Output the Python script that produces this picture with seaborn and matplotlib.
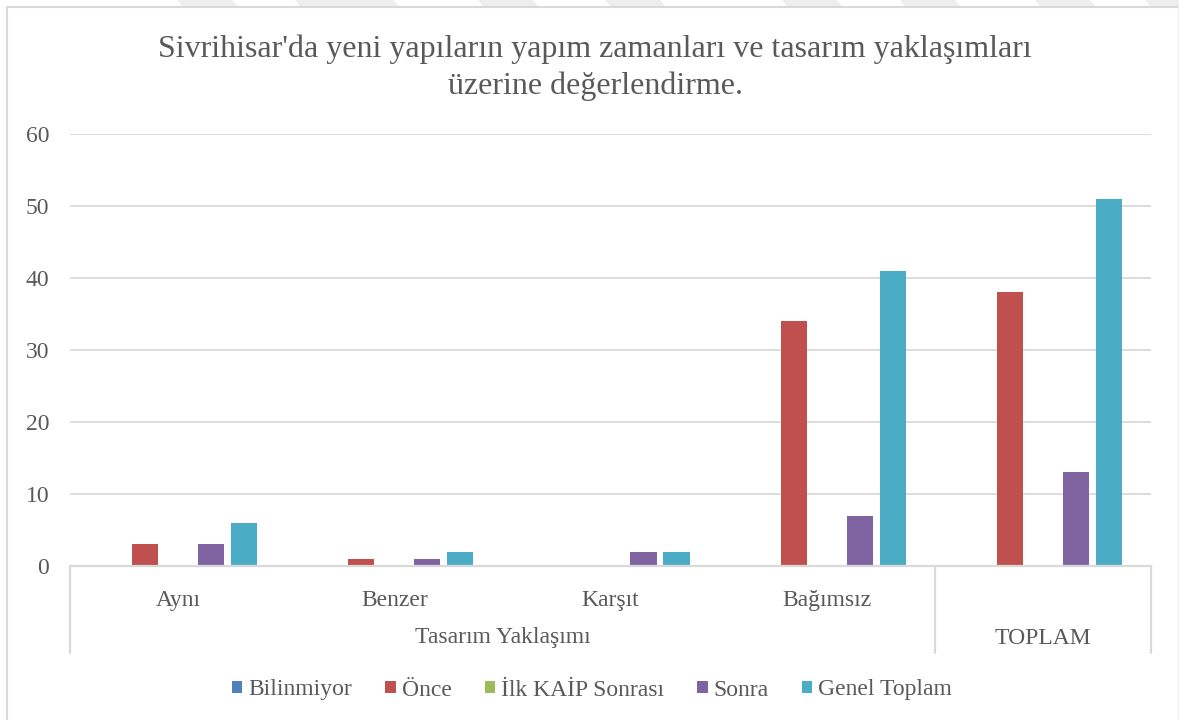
import matplotlib
matplotlib.use("Agg")
import matplotlib.pyplot as plt
import matplotlib.transforms as mtransforms
from matplotlib.patches import Polygon
import pandas as pd
import seaborn as sns

# ---- data ----
categories = ["Aynı", "Benzer", "Karşıt", "Bağımsız", "TOPLAM_ALL"]
sub_labels = ["Aynı", "Benzer", "Karşıt", "Bağımsız", ""]
group_labels = ["Tasarım Yaklaşımı", "TOPLAM"]
group_spans = [(0, 3), (4, 4)]  # category index ranges covered by each group
series = ["Bilinmiyor", "Önce", "İlk KAİP Sonrası", "Sonra", "Genel Toplam"]
bilinmiyor = [0, 0, 0, 0, 0]
once = [3, 1, 0, 34, 38]
ilk_kaip = [0, 0, 0, 0, 0]
sonra = [3, 1, 2, 7, 13]
genel_toplam = [6, 2, 2, 41, 51]
yticks = [0, 10, 20, 30, 40, 50, 60]
title = "Sivrihisar'da yeni yapıların yapım zamanları ve tasarım yaklaşımları\nüzerine değerlendirme."

colors = ["#4F81BD", "#C0504D", "#9BBB59", "#8064A2", "#4BACC6"]
text_color = "#595959"
line_color = "#D9D9D9"
serif = ["Liberation Serif", "DejaVu Serif"]

values = [bilinmiyor, once, ilk_kaip, sonra, genel_toplam]
df = pd.DataFrame(
    [(c, s, v[i]) for s, v in zip(series, values) for i, c in enumerate(categories)],
    columns=["kategori", "seri", "deger"],
)

sns.set_style("white")
plt.rcParams["font.family"] = serif

W, H = 1179, 720
fig = plt.figure(figsize=(W / 100, H / 100), dpi=100)
x0, x1 = 70, 1151
y_top, y_bot = 134, 566
ax = fig.add_axes([x0 / W, 1 - y_bot / H, (x1 - x0) / W, (y_bot - y_top) / H])

sns.barplot(
    data=df, x="kategori", y="deger", hue="seri",
    order=categories, hue_order=series, palette=colors,
    width=0.763, gap=0.21, linewidth=0, saturation=1, ax=ax, legend=True,
)

ax.set_ylim(0, 60)
ax.set_xlim(-0.5, len(categories) - 0.5)
ax.set_yticks(yticks)
ax.set_yticklabels([str(t) for t in yticks], fontsize=17, color=text_color)
ax.tick_params(axis="y", length=0, pad=15)
ax.set_xticks(range(len(categories)))
ax.set_xticklabels(sub_labels, fontsize=17, color=text_color)
ax.tick_params(axis="x", length=0, pad=17)
ax.set_xlabel("")
ax.set_ylabel("")
ax.yaxis.grid(True, color=line_color, linewidth=1.3)
ax.set_axisbelow(True)
for side in ["top", "right", "left"]:
    ax.spines[side].set_visible(False)
ax.spines["bottom"].set_color(line_color)
ax.spines["bottom"].set_linewidth(1.6)

# two-level category axis: separators and group labels
trans = mtransforms.blended_transform_factory(ax.transData, ax.transAxes)
sep_bottom = -(653 - y_bot) / (y_bot - y_top)
group_y = -(638 - y_bot) / (y_bot - y_top)
bounds = [-0.5] + [hi + 0.5 for _, hi in group_spans]
for b in bounds:
    ax.plot([b, b], [0, sep_bottom], transform=trans, color=line_color,
            linewidth=1.6, clip_on=False)
for (lo, hi), lab in zip(group_spans, group_labels):
    ax.text((lo + hi) / 2, group_y, lab, transform=trans, ha="center", va="center",
            fontsize=17, color=text_color)

# legend below the plot
handles, labels = ax.get_legend_handles_labels()
ax.get_legend().remove()
fig.legend(handles, labels, loc="center", bbox_to_anchor=(592 / W, 1 - 690 / H),
           ncol=5, frameon=False, prop={"family": serif, "size": 17},
           handlelength=0.45, handleheight=0.45,
           handletextpad=0.25, columnspacing=1.4, labelcolor=text_color)

# title
fig.text(595 / W, 1 - 68 / H, title, ha="center", va="center", fontsize=23,
         color=text_color, linespacing=1.35)

# chart frame
frame_kw = dict(color=line_color, linewidth=1.5, transform=fig.transFigure)
fig.add_artist(plt.Line2D([7 / W, 7 / W], [0, 1 - 7 / H], **frame_kw))
fig.add_artist(plt.Line2D([7 / W, 1178 / W], [1 - 7 / H, 1 - 7 / H], **frame_kw))
fig.add_artist(plt.Line2D([1178 / W, 1178 / W], [0, 1 - 7 / H], color="#EEEEEE",
                          linewidth=1, transform=fig.transFigure))

# faint slanted stripes along the top edge
for start in [182, 300, 343, 483, 610, 787, 905, 1040, 1150]:
    xs = [start, start + 55, start + 50, start - 5]
    ys = [6, 6, 0, 0]
    fig.add_artist(Polygon([(x / W, 1 - y / H) for x, y in zip(xs, ys)], closed=True,
                           facecolor="#EEEEEE", edgecolor="none",
                           transform=fig.transFigure))

fig.savefig("out.png", dpi=100, facecolor="white")
